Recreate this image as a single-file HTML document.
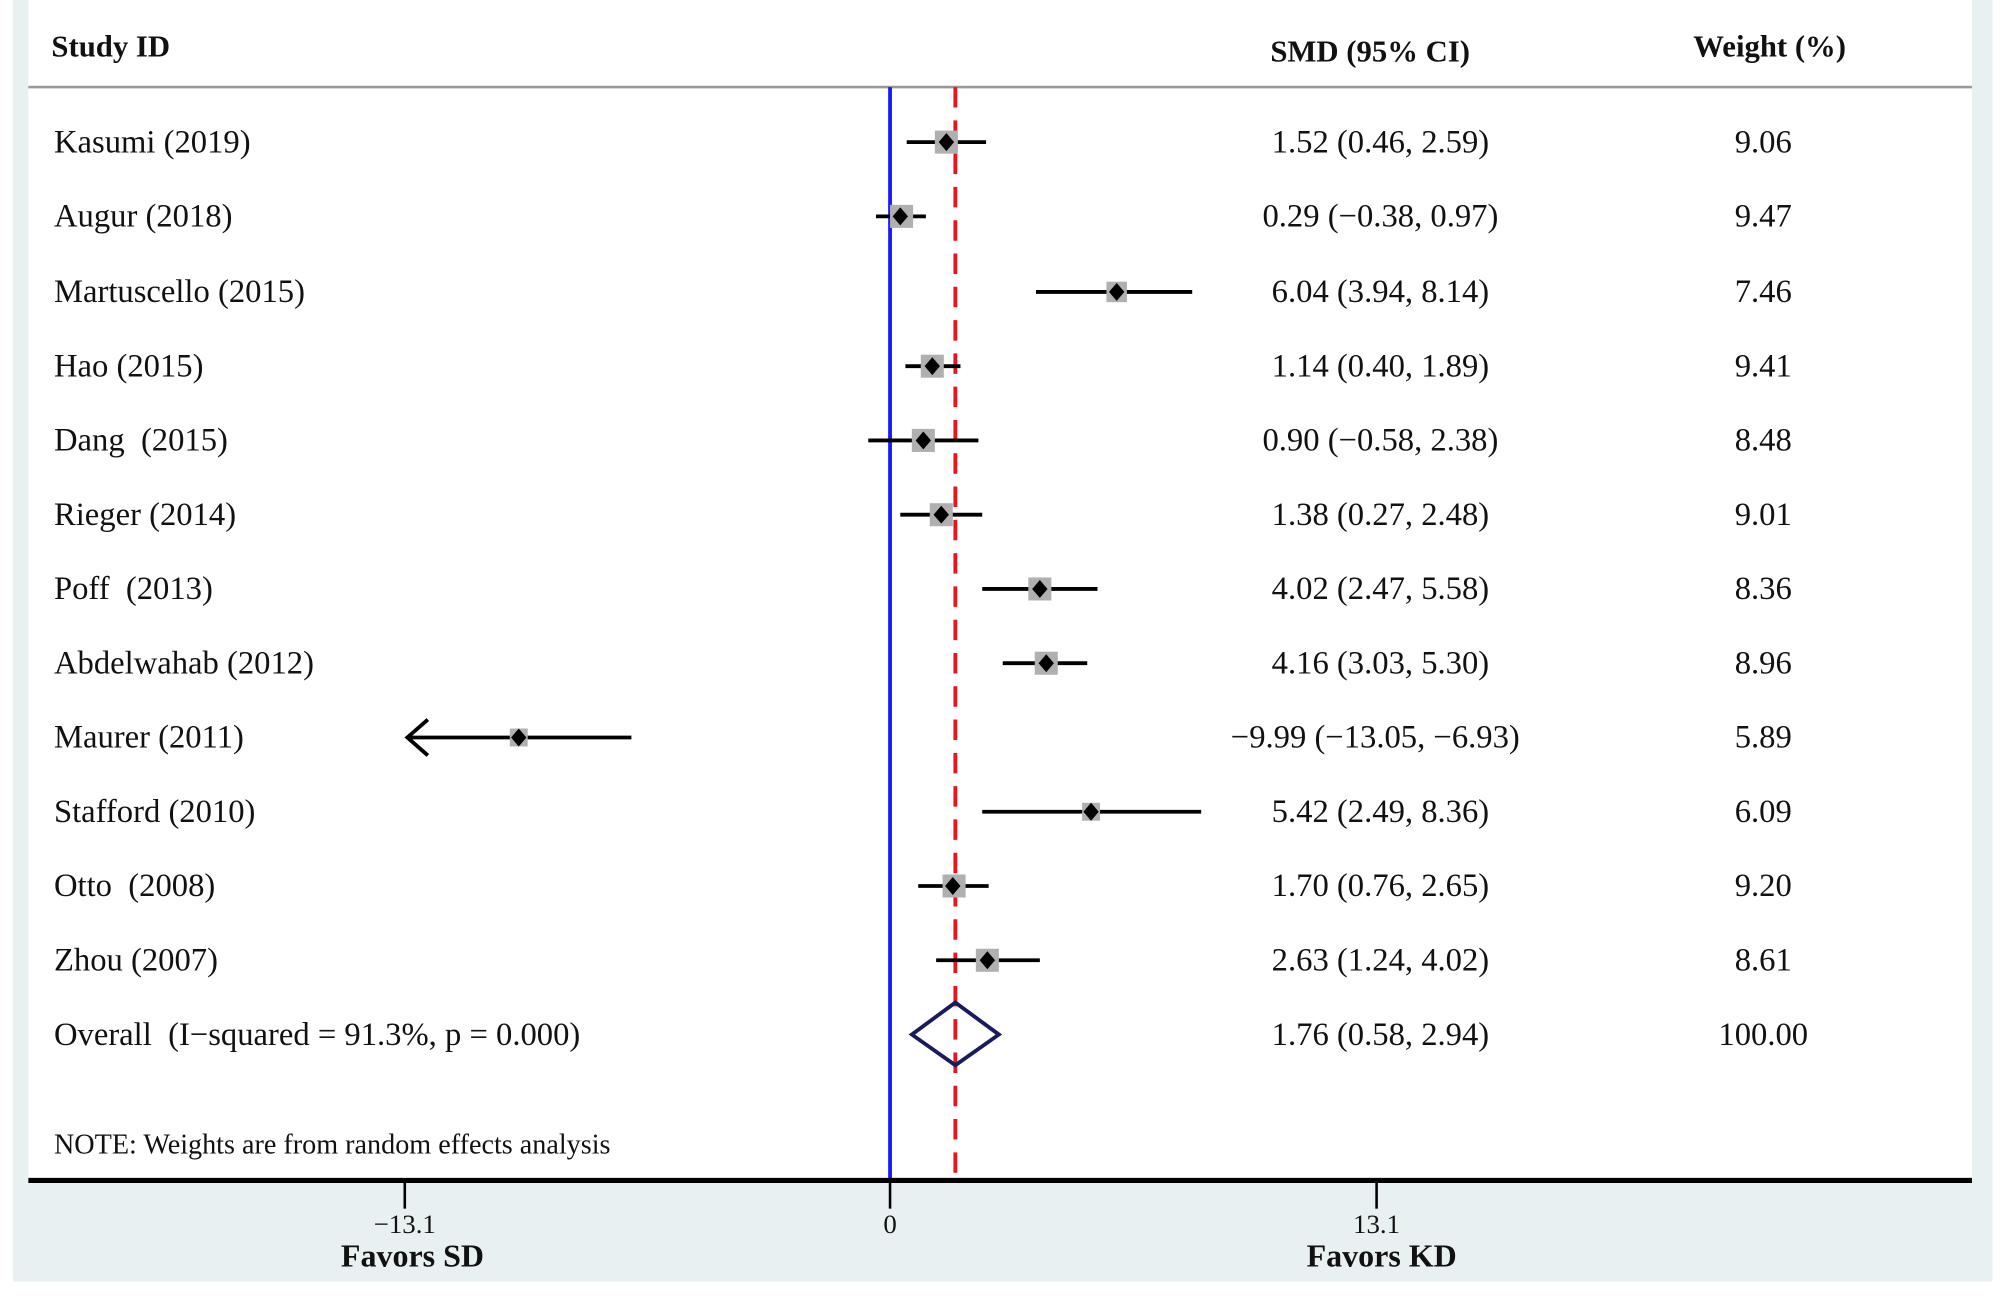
<!DOCTYPE html>
<html><head><meta charset="utf-8"><style>
html,body{margin:0;padding:0;background:#fff;}
svg{display:block;}
text{font-family:"Liberation Serif",serif;fill:#111;}
</style></head><body>
<svg width="2008" height="1297" viewBox="0 0 1568 1013" xmlns="http://www.w3.org/2000/svg">
<rect x="0" y="0" width="1568" height="1013" fill="#fff"/>
<rect x="10" y="0" width="1546" height="1001" fill="#e9f0f2"/>
<rect x="22" y="0" width="1518" height="922" fill="#fff"/>
<line x1="22" y1="68" x2="1540" y2="68" stroke="#999" stroke-width="2"/>
<text x="40" y="44" font-size="24" font-weight="bold">Study ID</text>
<text x="1070" y="48" font-size="24" font-weight="bold" text-anchor="middle">SMD (95% CI)</text>
<text x="1382" y="44" font-size="24" font-weight="bold" text-anchor="middle">Weight (%)</text>
<line x1="695" y1="68" x2="695" y2="922" stroke="#1a1aff" stroke-width="3"/>
<line x1="746" y1="68" x2="746" y2="922" stroke="#e8141e" stroke-width="3" stroke-dasharray="16,10"/>
<g font-size="25.5">
<text x="42" y="119">Kasumi (2019)</text>
<text x="42" y="177">Augur (2018)</text>
<text x="42" y="236">Martuscello (2015)</text>
<text x="42" y="294">Hao (2015)</text>
<text x="42" y="352" xml:space="preserve">Dang  (2015)</text>
<text x="42" y="410">Rieger (2014)</text>
<text x="42" y="468" xml:space="preserve">Poff  (2013)</text>
<text x="42" y="526">Abdelwahab (2012)</text>
<text x="42" y="584">Maurer (2011)</text>
<text x="42" y="642">Stafford (2010)</text>
<text x="42" y="700" xml:space="preserve">Otto  (2008)</text>
<text x="42" y="758">Zhou (2007)</text>
<text x="42" y="816" xml:space="preserve">Overall  (I−squared = 91.3%, p = 0.000)</text>
</g>
<g font-size="25.5" text-anchor="middle">
<text x="1078" y="119">1.52 (0.46, 2.59)</text>
<text x="1078" y="177">0.29 (−0.38, 0.97)</text>
<text x="1078" y="236">6.04 (3.94, 8.14)</text>
<text x="1078" y="294">1.14 (0.40, 1.89)</text>
<text x="1078" y="352">0.90 (−0.58, 2.38)</text>
<text x="1078" y="410">1.38 (0.27, 2.48)</text>
<text x="1078" y="468">4.02 (2.47, 5.58)</text>
<text x="1078" y="526">4.16 (3.03, 5.30)</text>
<text x="1074" y="584">−9.99 (−13.05, −6.93)</text>
<text x="1078" y="642">5.42 (2.49, 8.36)</text>
<text x="1078" y="700">1.70 (0.76, 2.65)</text>
<text x="1078" y="758">2.63 (1.24, 4.02)</text>
<text x="1078" y="816">1.76 (0.58, 2.94)</text>
<text x="1377" y="119">9.06</text>
<text x="1377" y="177">9.47</text>
<text x="1377" y="236">7.46</text>
<text x="1377" y="294">9.41</text>
<text x="1377" y="352">8.48</text>
<text x="1377" y="410">9.01</text>
<text x="1377" y="468">8.36</text>
<text x="1377" y="526">8.96</text>
<text x="1377" y="584">5.89</text>
<text x="1377" y="642">6.09</text>
<text x="1377" y="700">9.20</text>
<text x="1377" y="758">8.61</text>
<text x="1377" y="816">100.00</text>
</g>
<g stroke="#000" stroke-width="3">
<line x1="708" y1="111" x2="770" y2="111"/>
<line x1="684" y1="169" x2="723" y2="169"/>
<line x1="809" y1="228" x2="931" y2="228"/>
<line x1="707" y1="286" x2="750" y2="286"/>
<line x1="678" y1="344" x2="764" y2="344"/>
<line x1="703" y1="402" x2="767" y2="402"/>
<line x1="767" y1="460" x2="857" y2="460"/>
<line x1="783" y1="518" x2="849" y2="518"/>
<line x1="318" y1="576" x2="493" y2="576"/>
<polyline points="334,562 318,576 334,590" fill="none"/>
<line x1="767" y1="634" x2="938" y2="634"/>
<line x1="717" y1="692" x2="772" y2="692"/>
<line x1="731" y1="750" x2="812" y2="750"/>
</g>
<g fill="#b0b0b0">
<rect x="730" y="102" width="18" height="18"/>
<rect x="695" y="160" width="18" height="18"/>
<rect x="864" y="220" width="16" height="16"/>
<rect x="719" y="277" width="18" height="18"/>
<rect x="712" y="335" width="18" height="18"/>
<rect x="726" y="393" width="18" height="18"/>
<rect x="803" y="451" width="18" height="18"/>
<rect x="808" y="509" width="18" height="18"/>
<rect x="398" y="569" width="14" height="14"/>
<rect x="845" y="627" width="14" height="14"/>
<rect x="736" y="683" width="18" height="18"/>
<rect x="762" y="741" width="18" height="18"/>
</g>
<g fill="#000">
<polygon points="739,104 745,111 739,118 733,111"/>
<polygon points="703,162 709,169 703,176 697,169"/>
<polygon points="872,221 878,228 872,235 866,228"/>
<polygon points="728,279 734,286 728,293 722,286"/>
<polygon points="721,337 727,344 721,351 715,344"/>
<polygon points="735,395 741,402 735,409 729,402"/>
<polygon points="812,453 818,460 812,467 806,460"/>
<polygon points="817,511 823,518 817,525 811,518"/>
<polygon points="405,569 411,576 405,583 399,576"/>
<polygon points="852,627 858,634 852,641 846,634"/>
<polygon points="744,685 750,692 744,699 738,692"/>
<polygon points="771,743 777,750 771,757 765,750"/>
</g>
<polygon points="712,808 746,783 780,808 746,832" fill="none" stroke="#1a1a5e" stroke-width="3"/>
<text x="42" y="901" font-size="22">NOTE: Weights are from random effects analysis</text>
<line x1="22" y1="922" x2="1540" y2="922" stroke="#000" stroke-width="4"/>
<g stroke="#000" stroke-width="2">
<line x1="316" y1="922" x2="316" y2="944"/>
<line x1="695" y1="922" x2="695" y2="944"/>
<line x1="1075" y1="922" x2="1075" y2="944"/>
</g>
<g font-size="21" text-anchor="middle">
<text x="316" y="963">−13.1</text>
<text x="695" y="963">0</text>
<text x="1075" y="963">13.1</text>
</g>
<g font-size="25" font-weight="bold" text-anchor="middle">
<text x="322" y="989">Favors SD</text>
<text x="1079" y="989">Favors KD</text>
</g>
</svg>
</body></html>
